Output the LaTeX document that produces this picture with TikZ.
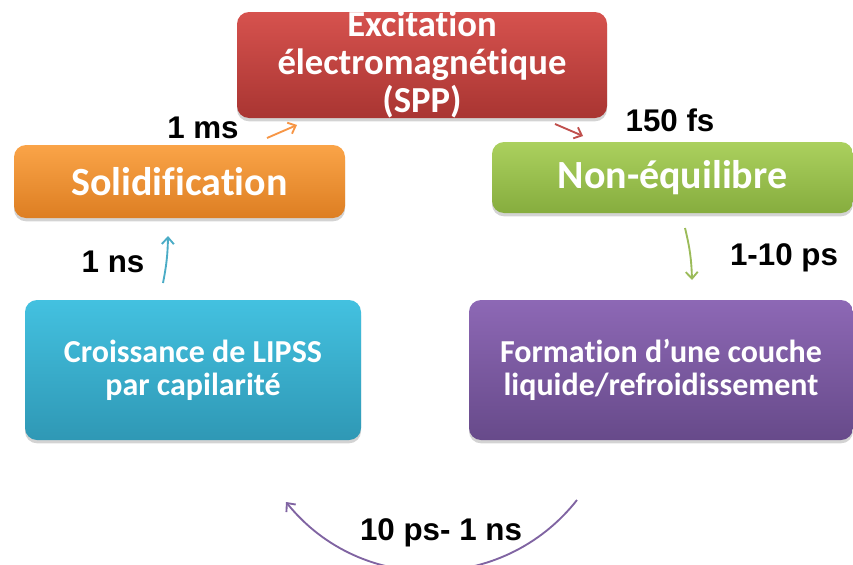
\documentclass[tikz,border=0pt]{standalone}
\usepackage{fontspec}
\setmainfont{Carlito}[Ligatures=NoCommon]
\newfontfamily\labelfont{Liberation Sans}
\usetikzlibrary{arrows.meta, shadows}

\definecolor{redtop}{HTML}{D6524E}
\definecolor{redbot}{HTML}{A93532}
\definecolor{orangetop}{HTML}{FAA448}
\definecolor{orangebot}{HTML}{DD7E22}
\definecolor{greentop}{HTML}{ABD05E}
\definecolor{greenbot}{HTML}{86AD3E}
\definecolor{aquatop}{HTML}{43C1E0}
\definecolor{aquabot}{HTML}{2F98B5}
\definecolor{purpletop}{HTML}{8D68B5}
\definecolor{purplebot}{HTML}{674A8A}
\definecolor{arrred}{HTML}{C0504D}
\definecolor{arrorange}{HTML}{F79646}
\definecolor{arrgreen}{HTML}{9BBB59}
\definecolor{arraqua}{HTML}{4BACC6}
\definecolor{arrpurple}{HTML}{8064A2}

\begin{document}
\begin{tikzpicture}[
    x=0.75pt, y=-0.75pt,
    >={Straight Barb[length=5pt, width=9pt]},
    stage/.style={
        rounded corners=9pt, align=center, inner sep=0pt, text=white,
        drop shadow={shadow xshift=0pt, shadow yshift=-2.5pt, opacity=0.35}
    },
    bigtext/.style={font=\bfseries\fontsize{30}{31}\selectfont},
    smalltext/.style={font=\bfseries\fontsize{24}{24.75}\selectfont},
    delay/.style={font=\labelfont\bfseries\fontsize{23.5}{24}\selectfont, anchor=base},
    link/.style={->, line width=1.4pt}
]

\useasboundingbox (0,0) rectangle (853,564);

\node[stage, top color=redtop, bottom color=redbot,
      minimum width=277.5pt, minimum height=79.5pt,
      text height=75pt, text depth=4.5pt,
      font=\bfseries\fontsize{27.5}{28.5}\selectfont] (exc) at (422,65)
    {Excitation\\électromagnétique\\(SPP)};

\node[stage, bigtext, top color=orangetop, bottom color=orangebot,
      minimum width=248.25pt, minimum height=54.75pt] (sol) at (179.5,181.5)
    {Solidification};

\node[stage, bigtext, top color=greentop, bottom color=greenbot,
      minimum width=270.75pt, minimum height=53.25pt] (neq) at (672.5,177.5)
    {Non-équilibre};

\node[stage, smalltext, top color=aquatop, bottom color=aquabot,
      minimum width=252pt, minimum height=105pt] (lipss) at (193,370)
    {Croissance de LIPSS\\par capilarité};

\node[stage, smalltext, top color=purpletop, bottom color=purplebot,
      minimum width=288pt, minimum height=105pt] (liq) at (661,370)
    {Formation d’une couche\\liquide/refroidissement};

% arrow ends
\coordinate (ms-a) at (267,138);
\coordinate (ms-b) at (297,125);
\coordinate (fs-a) at (555,124);
\coordinate (fs-b) at (583,136);
\coordinate (ps-a) at (685,228);
\coordinate (ps-b) at (692,280);
\coordinate (ns-a) at (163,283);
\coordinate (ns-b) at (168,236);
\coordinate (cyc-a) at (577,500);
\coordinate (cyc-b) at (286,502);

\draw[link, arrorange] (ms-a) -- (ms-b);
\draw[link, arrred] (fs-a) -- (fs-b);
\draw[link, arrgreen] (ps-a) to[bend left=6] (ps-b);
\draw[link, arraqua] (ns-a) to[bend right=5] (ns-b);
\draw[link, arrpurple] (cyc-a) .. controls (503,594) and (361,595) .. (cyc-b);

\node[delay] (t-ms) at (203,138) {1 ms};
\node[delay] (t-fs) at (670,131) {150 fs};
\node[delay] (t-ns) at (113,272) {1 ns};
\node[delay] (t-ps) at (784,265) {1-10 ps};
\node[delay] (t-cyc) at (441,540) {10 ps- 1 ns};

\end{tikzpicture}
\end{document}
